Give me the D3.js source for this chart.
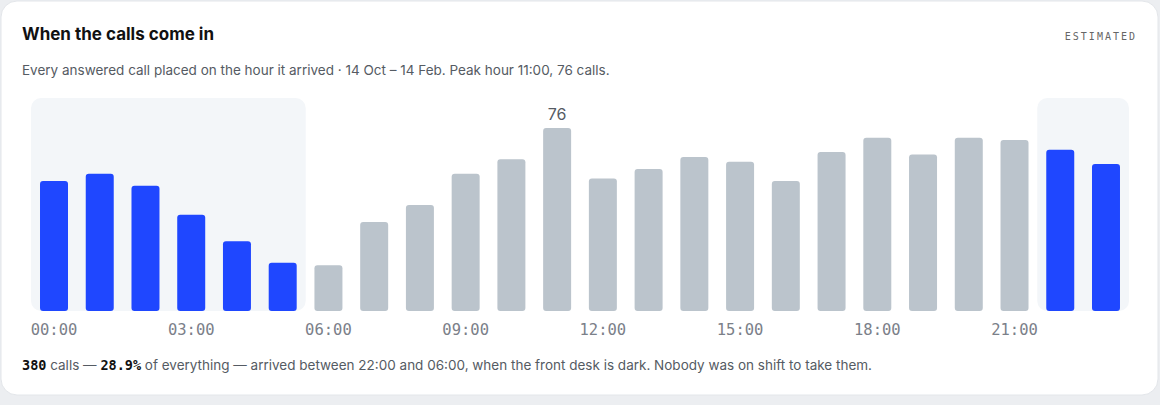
<!DOCTYPE html><html><head><meta charset="utf-8"><script src="https://cdn.jsdelivr.net/npm/d3@7"></script>
<style>body{margin:0;background:#eceef1;font-family:Inter,sans-serif}</style></head><body><svg id="c" width="1160" height="405"></svg>
<script>
const hours=d3.range(24);
const calls=[54,57,52,40,29,20,19,37,44,57,63,76,55,59,64,62,54,66,72,65,72,71,67,61];
const nightHours=[22,23,0,1,2,3,4,5];
const tickHours=[0,3,6,9,12,15,18,21];
const svg=d3.select("#c");
svg.append("rect").attr("x",1).attr("y",1).attr("width",1157).attr("height",394).attr("rx",16).attr("fill","#fff").attr("stroke","#e3e6ea");
svg.append("text").attr("x",22).attr("y",40).attr("font-size",17).attr("font-weight",700).attr("fill","#111").text("When the calls come in");
svg.append("text").attr("x",1137).attr("y",40).attr("text-anchor","end").attr("font-size",10).attr("letter-spacing",2).attr("fill","#666").attr("font-family","DejaVu Sans Mono, monospace").text("ESTIMATED");
svg.append("text").attr("x",22).attr("y",75).attr("font-size",13.5).attr("fill","#555b63").text("Every answered call placed on the hour it arrived · 14 Oct – 14 Feb. Peak hour 11:00, 76 calls.");
const x=d3.scaleBand().domain(hours).range([31,1129]).paddingInner(0.388).paddingOuter(0.197);
const y=d3.scaleLinear().domain([0,76]).range([311,128]);
const bw=x.bandwidth(),pad=x.paddingOuter()*x.step();
const bg=(a,b)=>svg.append("rect").attr("x",x(a)-pad).attr("y",98).attr("width",x(b)+bw+pad-(x(a)-pad)).attr("height",y(0)-98).attr("rx",10).attr("fill","#f3f6f9");
bg(0,5);bg(22,23);
svg.selectAll(".b").data(hours).join("path").attr("fill",h=>nightHours.includes(h)?"#1f47ff":"#bbc4cc")
 .attr("d",h=>{const x0=x(h),y0=y(calls[h]),r=3,b=y(0);return `M${x0},${b-r}V${y0+r}Q${x0},${y0} ${x0+r},${y0}H${x0+bw-r}Q${x0+bw},${y0} ${x0+bw},${y0+r}V${b-r}Q${x0+bw},${b} ${x0+bw-r},${b}H${x0+r}Q${x0},${b} ${x0},${b-r}Z`;});
const pk=d3.maxIndex(calls);
svg.append("text").attr("x",x(pk)+bw/2).attr("y",y(calls[pk])-8).attr("text-anchor","middle").attr("font-size",16).attr("fill","#555b63").text(calls[pk]);
const ax=svg.append("g").attr("transform","translate(0,318)").call(d3.axisBottom(x).tickValues(tickHours).tickSize(0).tickFormat(h=>String(h).padStart(2,"0")+":00"));
ax.select(".domain").remove();
ax.selectAll("text").attr("font-size",15.5).attr("fill","#7b8089").attr("font-family","DejaVu Sans Mono, monospace").attr("dy","0.9em");
const night=d3.sum(nightHours,h=>calls[h]),pct=(night/d3.sum(calls)*100).toFixed(1);
const t=svg.append("text").attr("x",22).attr("y",370).attr("font-size",13.5).attr("fill","#555b63");
t.append("tspan").attr("font-family","DejaVu Sans Mono, monospace").attr("font-weight",700).attr("fill","#111").text(night);
t.append("tspan").text("  calls —  ");
t.append("tspan").attr("font-family","DejaVu Sans Mono, monospace").attr("font-weight",700).attr("fill","#111").text(pct+"%");
t.append("tspan").text("  of everything — arrived between 22:00 and 06:00, when the front desk is dark. Nobody was on shift to take them.");
</script></body></html>
